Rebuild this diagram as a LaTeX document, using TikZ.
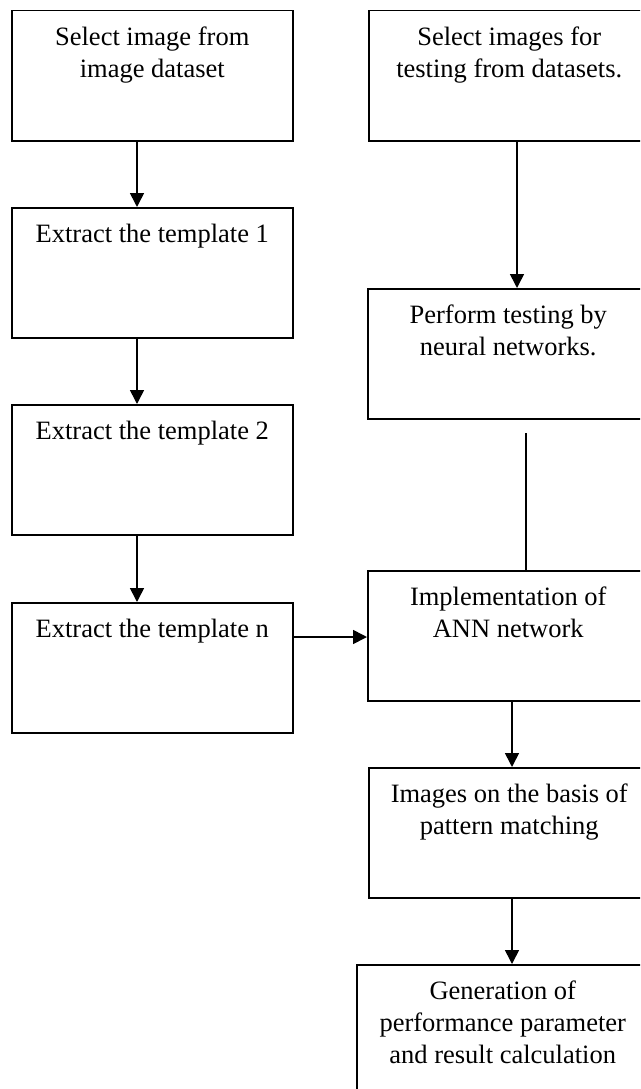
\documentclass[tikz,border=0pt]{standalone}
\usepackage{fontspec}
\setmainfont{Liberation Serif}
\usetikzlibrary{arrows.meta}
\newcommand\bxt[3]{\parbox[t][#2][t]{#1}{\centering\fontsize{26.5}{32}\selectfont\rule{0pt}{35pt}#3}}
\tikzset{
  box/.style={draw=black, line width=1.5pt, inner sep=0pt, anchor=north west, fill=white},
  arr/.style={line width=1.6pt, -{Triangle[length=14pt,width=14pt]}},
  ln/.style={line width=1.6pt}
}
\begin{document}
\begin{tikzpicture}[x=1pt,y=-1pt]
\useasboundingbox (0,0) rectangle (640,1089);
\fill[white] (0,0) rectangle (640,1089);
\clip (0,0) rectangle (640,1089);
% left column
\node[box] (b1) at (11,10) {\bxt{281pt}{130pt}{Select image from\\image dataset}};
\node[box] (t1) at (11,207) {\bxt{281pt}{130pt}{Extract the template 1}};
\node[box] (t2) at (11,404) {\bxt{281pt}{130pt}{Extract the template 2}};
\node[box] (tn) at (11,602) {\bxt{281pt}{130pt}{Extract the template n}};
% right column
\node[box] (r1) at (368,10) {\bxt{281pt}{130pt}{Select images for\\testing from datasets.}};
\node[box] (r2) at (367,288) {\bxt{281pt}{130pt}{Perform testing by\\neural networks.}};
\node[box] (ann) at (367,570) {\bxt{281pt}{130pt}{Implementation of\\ANN network}};
\node[box] (img) at (368,767) {\bxt{281pt}{130pt}{Images on the basis of\\pattern matching}};
\node[box] (gen) at (356,964) {\bxt{292pt}{130pt}{Generation of\\performance parameter\\and result calculation}};
% connectors
\draw[arr] ([xshift=126pt]b1.south west) -- ([xshift=126pt]t1.north west);
\draw[arr] ([xshift=126pt]t1.south west) -- ([xshift=126pt]t2.north west);
\draw[arr] ([xshift=126pt]t2.south west) -- ([xshift=126pt]tn.north west);
\draw[arr] ([yshift=-35pt]tn.north east) -- ([yshift=-35pt]tn.north east -| ann.west);
\draw[arr] ([xshift=149pt]r1.south west) -- ([xshift=149pt]r1.south west |- r2.north);
\coordinate (g) at (526,433);
\draw[ln] (g) -- (g |- ann.north);
\draw[arr] ([xshift=145pt]ann.south west) -- ([xshift=145pt]ann.south west |- img.north);
\draw[arr] ([xshift=144pt]img.south west) -- ([xshift=144pt]img.south west |- gen.north);
\end{tikzpicture}
\end{document}
